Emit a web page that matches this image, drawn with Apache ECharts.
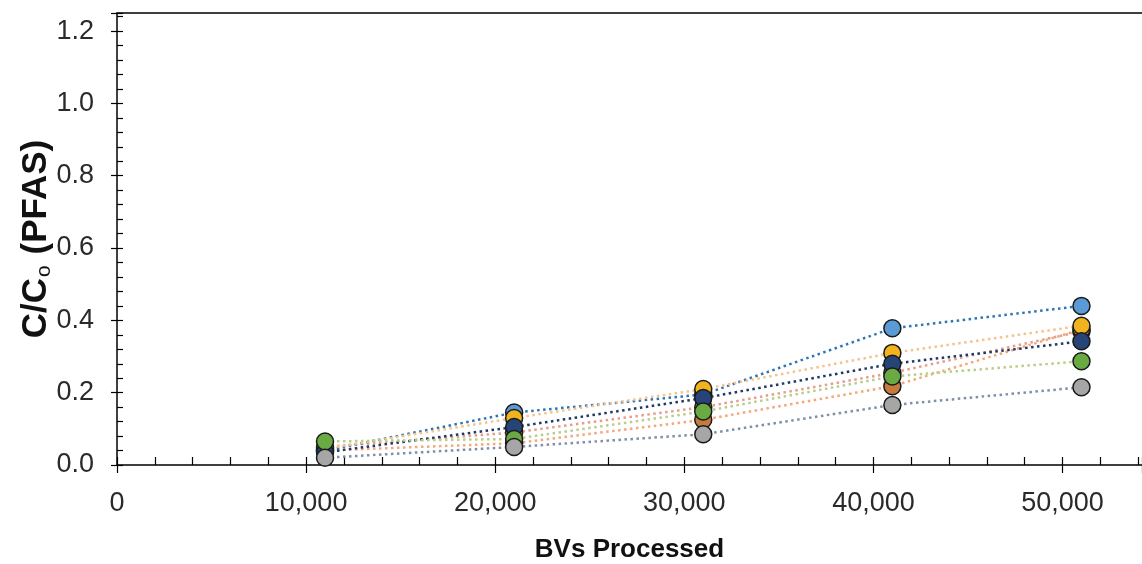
<!DOCTYPE html>
<html>
<head>
<meta charset="utf-8">
<script src="https://cdn.jsdelivr.net/npm/echarts@6/dist/echarts.min.js"></script>
<style>
  html, body { margin: 0; padding: 0; background: #fff; }
  #chart { width: 1142px; height: 564px; }
</style>
</head>
<body>
<div id="chart"></div>
<script>
// BVs processed at each sampling point
var bvs = [11000, 21000, 31000, 41000, 51000];

// C/Co per compound
var lightBlue = [0.04, 0.145, 0.195, 0.378, 0.44];
var gold = [0.045, 0.13, 0.21, 0.31, 0.385];
var salmon = [0.05, 0.09, 0.16, 0.255, 0.37];
var darkBlue = [0.035, 0.105, 0.185, 0.28, 0.342];
var green = [0.065, 0.072, 0.148, 0.245, 0.287];
var orange = [0.04, 0.06, 0.125, 0.218, 0.375];
var gray = [0.02, 0.05, 0.085, 0.166, 0.215];

var xTicks = [0, 10000, 20000, 30000, 40000, 50000];
var yTicks = [0, 0.2, 0.4, 0.6, 0.8, 1.0, 1.2];

var FONT = '"Liberation Sans", Arial, sans-serif';

function pairs(vals) {
  return bvs.map(function (x, i) { return [x, vals[i]]; });
}

function makeSeries(name, vals, fill, line) {
  return {
    name: name,
    type: 'line',
    data: pairs(vals),
    symbol: 'circle',
    symbolSize: 17,
    itemStyle: { color: fill, borderColor: '#1a1a1a', borderWidth: 1.5 },
    lineStyle: { color: line, width: 2.5, type: [2.5, 3.5] },
    z: 3
  };
}

var chart = echarts.init(document.getElementById('chart'));
chart.setOption({
  animation: false,
  grid: { left: 117, top: 13, right: 0, bottom: 99, outerBoundsMode: 'none', containLabel: false },
  xAxis: [{
    type: 'value', min: 0, max: 54200, interval: 10000,
    name: 'BVs Processed', nameLocation: 'middle', nameGap: 72, nameMoveOverlap: false,
    nameTextStyle: { fontFamily: FONT, fontWeight: 'bold', fontSize: 26, color: '#111' },
    axisLine: { show: true, lineStyle: { color: '#000', width: 1.5 } },
    axisTick: { show: true, length: 8, lineStyle: { color: '#000', width: 1.2 } },
    splitLine: { show: false },
    axisLabel: {
      margin: 25, fontFamily: FONT, fontSize: 27, color: '#2a2a2a',
      formatter: function (v) {
        return xTicks.indexOf(v) < 0 ? '' : String(v).replace(/\B(?=(\d{3})+(?!\d))/g, ',');
      }
    }
  }, {
    type: 'value', min: 0, max: 54200, interval: 10000, position: 'bottom',
    axisLine: { show: false },
    axisTick: { show: true, inside: true, length: 8, lineStyle: { color: '#000', width: 1.2 } },
    minorTick: { show: true, splitNumber: 5, length: 8, lineStyle: { color: '#000', width: 1.2 } },
    axisLabel: { show: false },
    splitLine: { show: false }
  }, {
    type: 'value', min: 0, max: 54200, position: 'top',
    axisLine: { show: true, lineStyle: { color: '#000', width: 1.5 } },
    axisTick: { show: false },
    axisLabel: { show: false },
    splitLine: { show: false }
  }],
  yAxis: [{
    type: 'value', min: 0, max: 1.25, interval: 0.2,
    name: '{b|C/C}{s|o}{b| (PFAS)}', nameLocation: 'middle', nameGap: 62, nameMoveOverlap: false,
    nameTextStyle: {
      rich: {
        b: { fontFamily: FONT, fontWeight: 'bold', fontSize: 35, color: '#111' },
        s: { fontFamily: FONT, fontSize: 21, color: '#111', padding: [17, 1, 0, 1] }
      }
    },
    axisLine: { show: true, lineStyle: { color: '#000', width: 1.5 } },
    axisTick: { show: true, length: 6, lineStyle: { color: '#000', width: 1.2 } },
    splitLine: { show: false },
    axisLabel: {
      margin: 23, fontFamily: FONT, fontSize: 27, color: '#2a2a2a',
      formatter: function (v) {
        var r = Math.round(v * 10) / 10;
        return (Math.abs(v - r) > 1e-6 || yTicks.indexOf(r) < 0) ? '' : r.toFixed(1);
      }
    }
  }, {
    type: 'value', min: 0, max: 1.25, interval: 0.2, position: 'left',
    axisLine: { show: false },
    axisTick: { show: true, inside: true, length: 6, lineStyle: { color: '#000', width: 1.2 } },
    minorTick: { show: true, splitNumber: 5, length: 6, lineStyle: { color: '#000', width: 1.2 } },
    axisLabel: { show: false },
    splitLine: { show: false }
  }],
  series: [
    makeSeries('salmon', salmon, '#E8906A', '#E89C8C'),
    makeSeries('orange', orange, '#C87A3C', '#F4A77A'),
    makeSeries('lightBlue', lightBlue, '#5B9BD5', '#2E75B6'),
    makeSeries('gold', gold, '#F2B41E', '#F5C48A'),
    makeSeries('darkBlue', darkBlue, '#264478', '#1F3864'),
    makeSeries('green', green, '#6AAA42', '#B7CF8A'),
    makeSeries('gray', gray, '#A6A6A6', '#7F8FA9')
  ]
});
</script>
</body>
</html>
